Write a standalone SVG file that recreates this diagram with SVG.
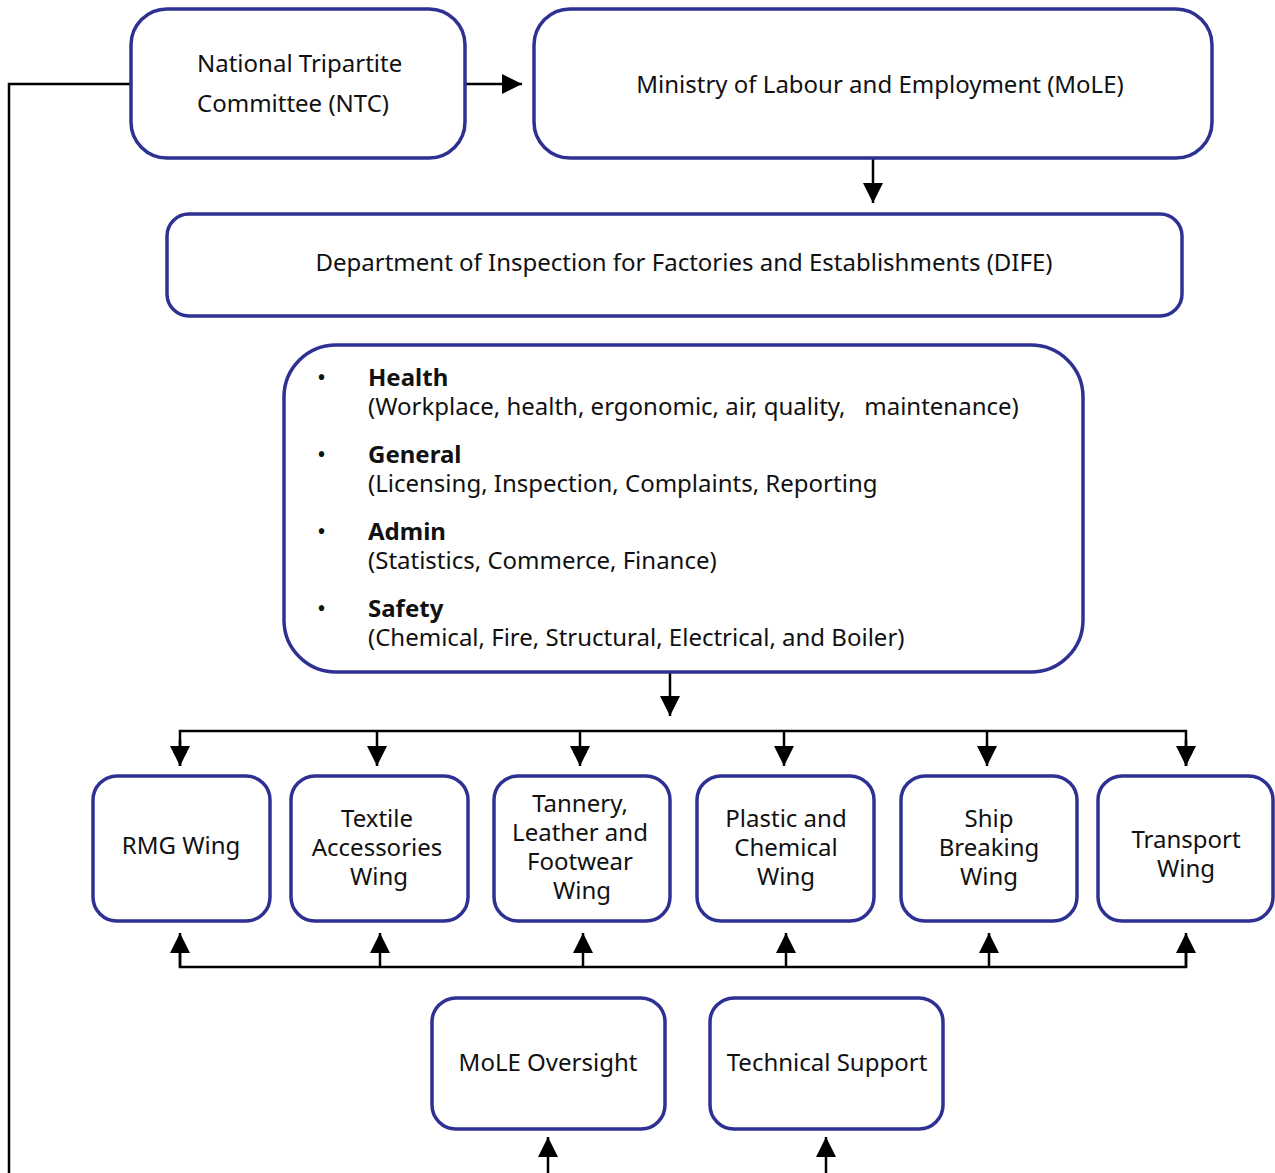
<svg xmlns="http://www.w3.org/2000/svg" width="1275" height="1173" viewBox="0 0 1275 1173">
<defs>
<style>
.box{fill:#fff;stroke:#2e3192;stroke-width:3.5}
.t{font-family:"Noto Sans","Open Sans","Liberation Sans",sans-serif;font-size:24px;fill:#111}
.c{text-anchor:middle}
.b{font-weight:bold}
.ln{fill:none;stroke:#000;stroke-width:2.5}
</style>
<marker id="a" viewBox="0 0 20 20" refX="20" refY="10" markerWidth="20" markerHeight="20" markerUnits="userSpaceOnUse" orient="auto">
<path d="M0,0 L20,10 L0,20 z" fill="#000"/>
</marker>
</defs>
<rect width="1275" height="1173" fill="#fff"/>
<g id="connectors">
<path class="ln" d="M131,84 H9 V1173"/>
<path class="ln" d="M465,84 H522" marker-end="url(#a)"/>
<path class="ln" d="M873,158 V203" marker-end="url(#a)"/>
<path class="ln" d="M670,672 V716" marker-end="url(#a)"/>
<path class="ln" d="M180,766 V731 H1186 V766"/>
<path class="ln" d="M180,740 V766" marker-end="url(#a)"/>
<path class="ln" d="M377,731 V766" marker-end="url(#a)"/>
<path class="ln" d="M580,731 V766" marker-end="url(#a)"/>
<path class="ln" d="M784,731 V766" marker-end="url(#a)"/>
<path class="ln" d="M987,731 V766" marker-end="url(#a)"/>
<path class="ln" d="M1186,740 V766" marker-end="url(#a)"/>
<path class="ln" d="M180,945 V967 H1186 V945"/>
<path class="ln" d="M180,967 V933" marker-end="url(#a)"/>
<path class="ln" d="M380,967 V933" marker-end="url(#a)"/>
<path class="ln" d="M583,967 V933" marker-end="url(#a)"/>
<path class="ln" d="M786,967 V933" marker-end="url(#a)"/>
<path class="ln" d="M989,967 V933" marker-end="url(#a)"/>
<path class="ln" d="M1186,967 V933" marker-end="url(#a)"/>
<path class="ln" d="M548,1173 V1137" marker-end="url(#a)"/>
<path class="ln" d="M826,1173 V1137" marker-end="url(#a)"/>
</g>
<g id="ntc">
<rect class="box" x="131" y="9" width="334" height="149" rx="36"/>
<text class="t" x="197" y="72">National Tripartite</text>
<text class="t" x="197" y="112">Committee (NTC)</text>
</g>
<g id="mole">
<rect class="box" x="534" y="9" width="678" height="149" rx="36"/>
<text class="t c" x="880" y="93">Ministry of Labour and Employment (MoLE)</text>
</g>
<g id="dife">
<rect class="box" x="167" y="214" width="1015" height="102" rx="22"/>
<text class="t c" x="684" y="271">Department of Inspection for Factories and Establishments (DIFE)</text>
</g>
<g id="divisions">
<rect class="box" x="284" y="345" width="799" height="327" rx="52"/>
<text class="t" x="317" y="386">•</text>
<text class="t b" x="368" y="386">Health</text>
<text class="t" x="368" y="415" xml:space="preserve">(Workplace, health, ergonomic, air, quality,   maintenance)</text>
<text class="t" x="317" y="463">•</text>
<text class="t b" x="368" y="463">General</text>
<text class="t" x="368" y="492">(Licensing, Inspection, Complaints, Reporting</text>
<text class="t" x="317" y="540">•</text>
<text class="t b" x="368" y="540">Admin</text>
<text class="t" x="368" y="569">(Statistics, Commerce, Finance)</text>
<text class="t" x="317" y="617">•</text>
<text class="t b" x="368" y="617">Safety</text>
<text class="t" x="368" y="646">(Chemical, Fire, Structural, Electrical, and Boiler)</text>
</g>
<g id="rmg">
<rect class="box" x="93" y="776" width="177" height="145" rx="24"/>
<text class="t c" x="181" y="854">RMG Wing</text>
</g>
<g id="textile">
<rect class="box" x="291" y="776" width="177" height="145" rx="24"/>
<text class="t c" x="377" y="827">Textile</text>
<text class="t c" x="377" y="856">Accessories</text>
<text class="t c" x="379" y="885">Wing</text>
</g>
<g id="tannery">
<rect class="box" x="494" y="776" width="176" height="145" rx="24"/>
<text class="t c" x="580" y="812">Tannery,</text>
<text class="t c" x="580" y="841">Leather and</text>
<text class="t c" x="580" y="870">Footwear</text>
<text class="t c" x="582" y="899">Wing</text>
</g>
<g id="plastic">
<rect class="box" x="697" y="776" width="177" height="145" rx="24"/>
<text class="t c" x="786" y="827">Plastic and</text>
<text class="t c" x="786" y="856">Chemical</text>
<text class="t c" x="786" y="885">Wing</text>
</g>
<g id="ship">
<rect class="box" x="901" y="776" width="176" height="145" rx="24"/>
<text class="t c" x="989" y="827">Ship</text>
<text class="t c" x="989" y="856">Breaking</text>
<text class="t c" x="989" y="885">Wing</text>
</g>
<g id="transport">
<rect class="box" x="1098" y="776" width="175" height="145" rx="24"/>
<text class="t c" x="1186" y="848">Transport</text>
<text class="t c" x="1186" y="877">Wing</text>
</g>
<g id="oversight">
<rect class="box" x="432" y="998" width="233" height="131" rx="24"/>
<text class="t c" x="548" y="1071">MoLE Oversight</text>
</g>
<g id="techsupport">
<rect class="box" x="710" y="998" width="233" height="131" rx="24"/>
<text class="t c" x="827" y="1071">Technical Support</text>
</g>
</svg>
